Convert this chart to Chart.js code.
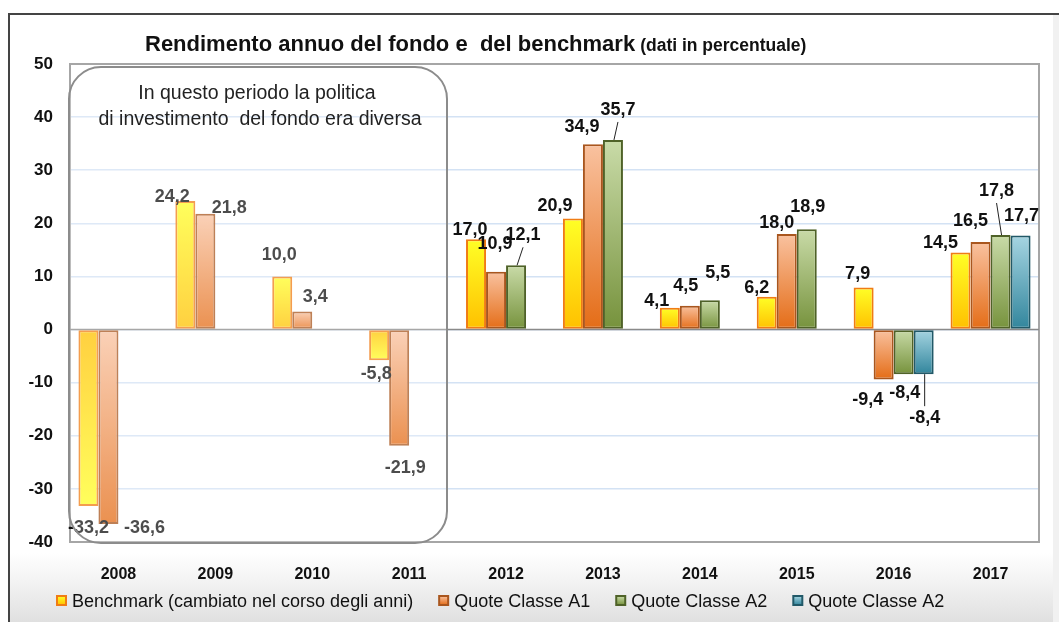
<!DOCTYPE html>
<html>
<head>
<meta charset="utf-8">
<script src="https://cdn.jsdelivr.net/npm/chart.js@4.4.1/dist/chart.umd.min.js"></script>
<style>
  html, body { margin: 0; padding: 0; background: #fff; }
  #wrap { position: relative; width: 1059px; height: 622px; overflow: hidden; }
  #frame {
    position: absolute; left: 8px; top: 13px; right: -4px; bottom: -4px;
    border-left: 2px solid #444; border-top: 2px solid #444;
    background: linear-gradient(to bottom, #fff 0%, #fff 88%, #f2f2f2 93%, #dedede 100%);
  }
  #edge { position: absolute; left: 1053px; top: 15px; width: 6px; bottom: 0; background: #f1f1f1; }
  canvas { position: absolute; left: 0; top: 0; }
</style>
</head>
<body>
<div id="wrap">
  <div id="frame"></div>
  <div id="edge"></div>
  <canvas id="chart" width="1059" height="622"></canvas>
</div>
<script>
// data
const years = ["2008", "2009", "2010", "2011", "2012", "2013", "2014", "2015", "2016", "2017"];
const benchmark = [-33.2, 24.2, 10.0, -5.8, 17.0, 20.9, 4.1, 6.2, 7.9, 14.5];
const classeA1 = [-36.6, 21.8, 3.4, -21.9, 10.9, 34.9, 4.5, 18.0, -9.4, 16.5];
const classeA2 = [null, null, null, null, 12.1, 35.7, 5.5, 18.9, -8.4, 17.8];
const classeA2bis = [null, null, null, null, null, null, null, null, -8.4, 17.7];
const seriesNames = ["Benchmark (cambiato nel corso degli anni)", "Quote Classe A1", "Quote Classe A2", "Quote Classe A2"];
const yMin = -40, yMax = 50, yStep = 10;

const FONT = "'Liberation Sans', Arial, sans-serif";

// light / dark / border per series
const colors = [
  { light: "#ffff26", dark: "#ffc000", border: "#f07c14", flip: true },
  { light: "#f9c2a0", dark: "#e46c16", border: "#a9561e" },
  { light: "#c9dba8", dark: "#76923c", border: "#4f6228" },
  { light: "#a6d5e2", dark: "#31859c", border: "#215968" },
];

// label nudges (dx, dy) from the default spot, and which ones get a leader line
const labelShift = {
  "0:0": [0, 8], "1:0": [36, -10],
  "0:1": [-13, 10], "1:1": [24, 8],
  "0:2": [-3, -7], "1:2": [13, 0],
  "0:3": [-3, 0], "1:3": [6, 8],
  "0:4": [-6, 5], "1:4": [-1, -14], "2:4": [7, -16],
  "0:5": [-18, 1], "1:5": [-11, -3], "2:5": [5, -16],
  "0:6": [-13, 7], "1:6": [-4, -6], "2:6": [8, -13],
  "0:7": [-10, 5], "1:7": [-10, 3], "2:7": [1, -8],
  "0:8": [-6, 0], "1:8": [-16, 7], "2:8": [1, 5], "3:8": [1, 30],
  "0:9": [-20, 4], "1:9": [-10, -7], "2:9": [-4, -30], "3:9": [1, -6],
};
const leaders = ["2:4", "2:5", "3:8", "2:9"];

function fmt(v) { return v.toFixed(1).replace(".", ","); }

function barFill(i) {
  return ctx => {
    const chart = ctx.chart;
    if (!chart.chartArea || ctx.raw == null) return colors[i].dark;
    const y = chart.scales.y;
    const y0 = y.getPixelForValue(0), y1 = y.getPixelForValue(ctx.raw);
    const top = Math.min(y0, y1), bot = Math.max(y0, y1);
    const g = chart.ctx.createLinearGradient(0, top, 0, bot + 0.01);
    const c = colors[i];
    if (c.flip && ctx.raw < 0) {
      g.addColorStop(0, c.dark); g.addColorStop(1, c.light);
    } else {
      g.addColorStop(0, c.light); g.addColorStop(1, c.dark);
    }
    return g;
  };
}

const decor = {
  id: "decor",
  beforeDatasetsDraw(chart) {
    const { ctx, chartArea: a } = chart;
    ctx.save();
    ctx.strokeStyle = "#a6a6a6";
    ctx.lineWidth = 2;
    ctx.strokeRect(a.left, a.top, a.right - a.left, a.bottom - a.top);
    const z = chart.scales.y.getPixelForValue(0);
    ctx.strokeStyle = "#8a8a8a";
    ctx.lineWidth = 1.5;
    ctx.beginPath(); ctx.moveTo(a.left, z); ctx.lineTo(a.right, z); ctx.stroke();
    ctx.restore();
  },
  afterDatasetsDraw(chart) {
    const { ctx } = chart;
    ctx.save();
    // value labels
    ctx.font = "bold 18px " + FONT;
    ctx.fillStyle = "#111";
    ctx.textAlign = "center";
    ctx.textBaseline = "middle";
    ctx.strokeStyle = "#222";
    ctx.lineWidth = 1;
    chart.data.datasets.forEach((ds, di) => {
      const meta = chart.getDatasetMeta(di);
      meta.data.forEach((bar, i) => {
        const v = ds.data[i];
        if (v == null) return;
        const key = di + ":" + i;
        const s = labelShift[key] || [0, 0];
        const lx = bar.x + s[0];
        const ly = (v >= 0 ? bar.y - 14 : bar.y + 14) + s[1];
        if (leaders.includes(key)) {
          ctx.beginPath();
          ctx.moveTo(bar.x + 1, bar.y);
          ctx.lineTo(lx, v >= 0 ? ly + 12 : ly - 12);
          ctx.stroke();
        }
        ctx.fillText(fmt(v), lx, ly);
      });
    });

    // the rounded box over 2008-2011
    const bx = 69, by = 67, bw = 378, bh = 476, r = 32;
    ctx.beginPath();
    ctx.roundRect(bx, by, bw, bh, r);
    ctx.fillStyle = "rgba(255,255,255,0.25)";
    ctx.fill();
    ctx.strokeStyle = "#8c8c8c";
    ctx.lineWidth = 2;
    ctx.stroke();
    ctx.fillStyle = "#222";
    ctx.font = "19.5px " + FONT;
    ctx.textAlign = "center";
    ctx.fillText("In questo periodo la politica", 257, 94);
    ctx.fillText("di investimento  del fondo era diversa", 260, 120);

    // title
    ctx.textAlign = "left";
    ctx.textBaseline = "alphabetic";
    ctx.fillStyle = "#111";
    ctx.font = "bold 22px " + FONT;
    const t1 = "Rendimento annuo del fondo e  del benchmark";
    ctx.fillText(t1, 145, 51);
    const w1 = ctx.measureText(t1).width;
    ctx.font = "bold 17.5px " + FONT;
    ctx.fillText("(dati in percentuale)", 145 + w1 + 5, 51);

    // legend
    ctx.textBaseline = "middle";
    ctx.font = "18px " + FONT;
    let x = 57;
    const ly = 602;
    seriesNames.forEach((name, i) => {
      const c = colors[i];
      const g = ctx.createLinearGradient(0, ly - 6, 0, ly + 3);
      g.addColorStop(0, c.light); g.addColorStop(1, c.dark);
      ctx.fillStyle = g;
      ctx.fillRect(x, ly - 6, 9, 9);
      ctx.strokeStyle = c.border;
      ctx.lineWidth = 2;
      ctx.strokeRect(x, ly - 6, 9, 9);
      ctx.fillStyle = "#111";
      ctx.fillText(name, x + 15, ly);
      x += 15 + ctx.measureText(name).width + 26;
    });
    ctx.restore();
  },
};

const datasets = [benchmark, classeA1, classeA2, classeA2bis].map((data, i) => ({
  label: seriesNames[i],
  data: data,
  backgroundColor: barFill(i),
  borderColor: colors[i].border,
  borderWidth: 2,
  borderSkipped: false,
  categoryPercentage: 0.826,
  barPercentage: 1.0,
}));

new Chart(document.getElementById("chart"), {
  type: "bar",
  data: { labels: years, datasets: datasets },
  options: {
    responsive: false,
    animation: false,
    layout: { padding: { top: 64, right: 20, left: 0, bottom: 0 } },
    plugins: { legend: { display: false }, tooltip: { enabled: false } },
    scales: {
      x: {
        grid: { display: false },
        border: { display: false },
        ticks: { color: "#111", font: { family: FONT, size: 16, weight: "bold" }, padding: 15 },
        afterFit: s => { s.height = 80; },
      },
      y: {
        min: yMin, max: yMax,
        border: { display: false },
        grid: { color: "#d3e2f4", lineWidth: 1.5, drawTicks: false },
        ticks: { stepSize: yStep, color: "#111", font: { family: FONT, size: 17, weight: "bold" }, padding: 17 },
        afterFit: s => { s.width = 70; },
      },
    },
  },
  plugins: [decor],
});
</script>
</body>
</html>
